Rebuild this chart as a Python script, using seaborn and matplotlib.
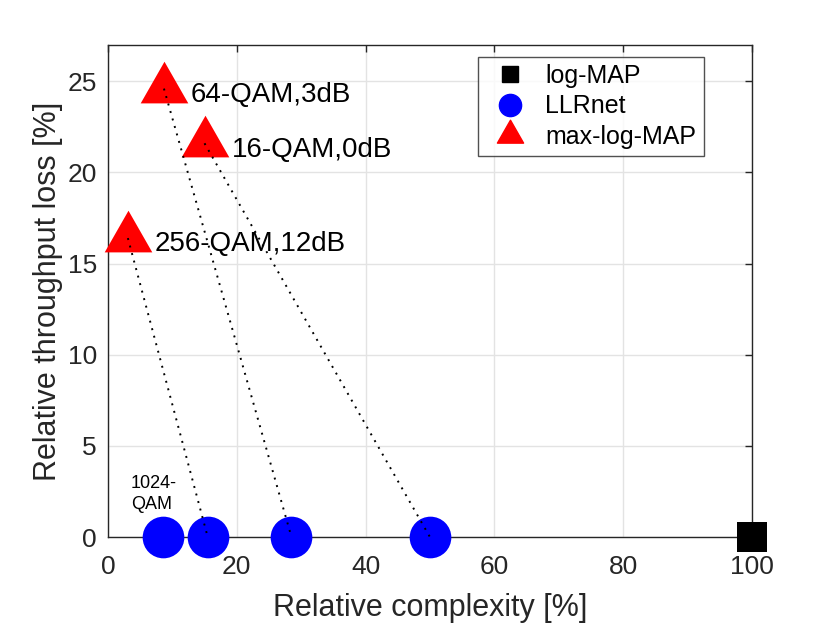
import numpy as np
import pandas as pd
import matplotlib
matplotlib.use("Agg")
import matplotlib.pyplot as plt
import seaborn as sns
from matplotlib.lines import Line2D
from matplotlib.path import Path

# data
logmap_x = [100]
logmap_y = [0]
llrnet_x = [8.5, 15.5, 28.5, 50]
llrnet_y = [0, 0, 0, 0]
maxlog_x = [3.1, 8.7, 15.0]
maxlog_y = [16.4, 24.6, 21.6]
maxlog_labels = ["256-QAM,12dB", "64-QAM,3dB", "16-QAM,0dB"]
# each max-log-MAP point is joined to its LLRnet counterpart
pair_llrnet_x = [15.5, 28.5, 50]

sns.set_style("white")
plt.rcParams['font.family'] = ['Liberation Sans', 'DejaVu Sans']

fig = plt.figure(figsize=(8.3, 6.23), dpi=100)
ax = fig.add_axes([0.130, 0.138, 0.776, 0.790])

grey = "#262626"

# triangle with its centroid on the data point (like MATLAB's '^')
tri = Path([(0, 28), (-24, -14), (24, -14), (0, 28)],
           [Path.MOVETO, Path.LINETO, Path.LINETO, Path.CLOSEPOLY])

# dotted connections
for mx, my, lx in zip(maxlog_x, maxlog_y, pair_llrnet_x):
    ax.plot([mx, lx], [my, 0], linestyle=(0, (1, 3)), color="black",
            linewidth=1.4, zorder=5, clip_on=False)

df = pd.DataFrame({
    "x": logmap_x + llrnet_x + maxlog_x,
    "y": logmap_y + llrnet_y + maxlog_y,
    "method": ["log-MAP"] * len(logmap_x) + ["LLRnet"] * len(llrnet_x)
              + ["max-log-MAP"] * len(maxlog_x),
})
colors = {"log-MAP": "black", "LLRnet": "#0000ff", "max-log-MAP": "#ff0000"}
marks = {"log-MAP": "s", "LLRnet": "o", "max-log-MAP": tri}
sizes = {"log-MAP": 22, "LLRnet": 30, "max-log-MAP": 40}

for m in ["log-MAP", "LLRnet", "max-log-MAP"]:
    sub = df[df["method"] == m]
    sns.scatterplot(data=sub, x="x", y="y", color=colors[m], marker=marks[m],
                    s=sizes[m] ** 2, linewidth=0, ax=ax, zorder=3,
                    clip_on=False, legend=False)

for lx, ly, lab in zip(maxlog_x, maxlog_y, maxlog_labels):
    ax.text(lx + 4.2, ly - 0.35, lab, fontsize=20, va="center", ha="left",
            color="black", zorder=6)

ax.text(3.6, 2.35, "1024-\nQAM", fontsize=13, va="center", ha="left",
        color="black", linespacing=1.3)

ax.set_xlim(0, 100)
ax.set_ylim(0, 27)
ax.set_xticks(np.arange(0, 101, 20))
ax.set_yticks(np.arange(0, 26, 5))
ax.grid(True, color="#e3e3e3", linewidth=1)
ax.set_axisbelow(True)
ax.tick_params(direction="in", top=True, right=True, length=5, width=1,
               labelsize=19, colors=grey)
ax.tick_params(axis="x", pad=13)
ax.tick_params(axis="y", pad=8)
for sp in ax.spines.values():
    sp.set_color(grey)
    sp.set_linewidth(1)
    sp.set_visible(True)
ax.set_xlabel("Relative complexity [%]", fontsize=22, color=grey, labelpad=10)
ax.set_ylabel("Relative throughput loss [%]", fontsize=22, color=grey, labelpad=3)

handles = [
    Line2D([], [], linestyle="none", marker="s", color="black", markersize=12),
    Line2D([], [], linestyle="none", marker="o", color="#0000ff", markersize=16),
    Line2D([], [], linestyle="none", marker=tri, color="#ff0000", markersize=22),
]
leg = ax.legend(handles, ["log-MAP", "LLRnet", "max-log-MAP"],
                loc="upper right", bbox_to_anchor=(0.925, 0.976),
                fontsize=18, frameon=True, fancybox=False, edgecolor=grey,
                handletextpad=0.4, borderpad=0.3, labelspacing=0.25,
                handlelength=2.0, borderaxespad=0, labelcolor="black")
leg.get_frame().set_linewidth(1)

fig.savefig("out.png", dpi=100)
